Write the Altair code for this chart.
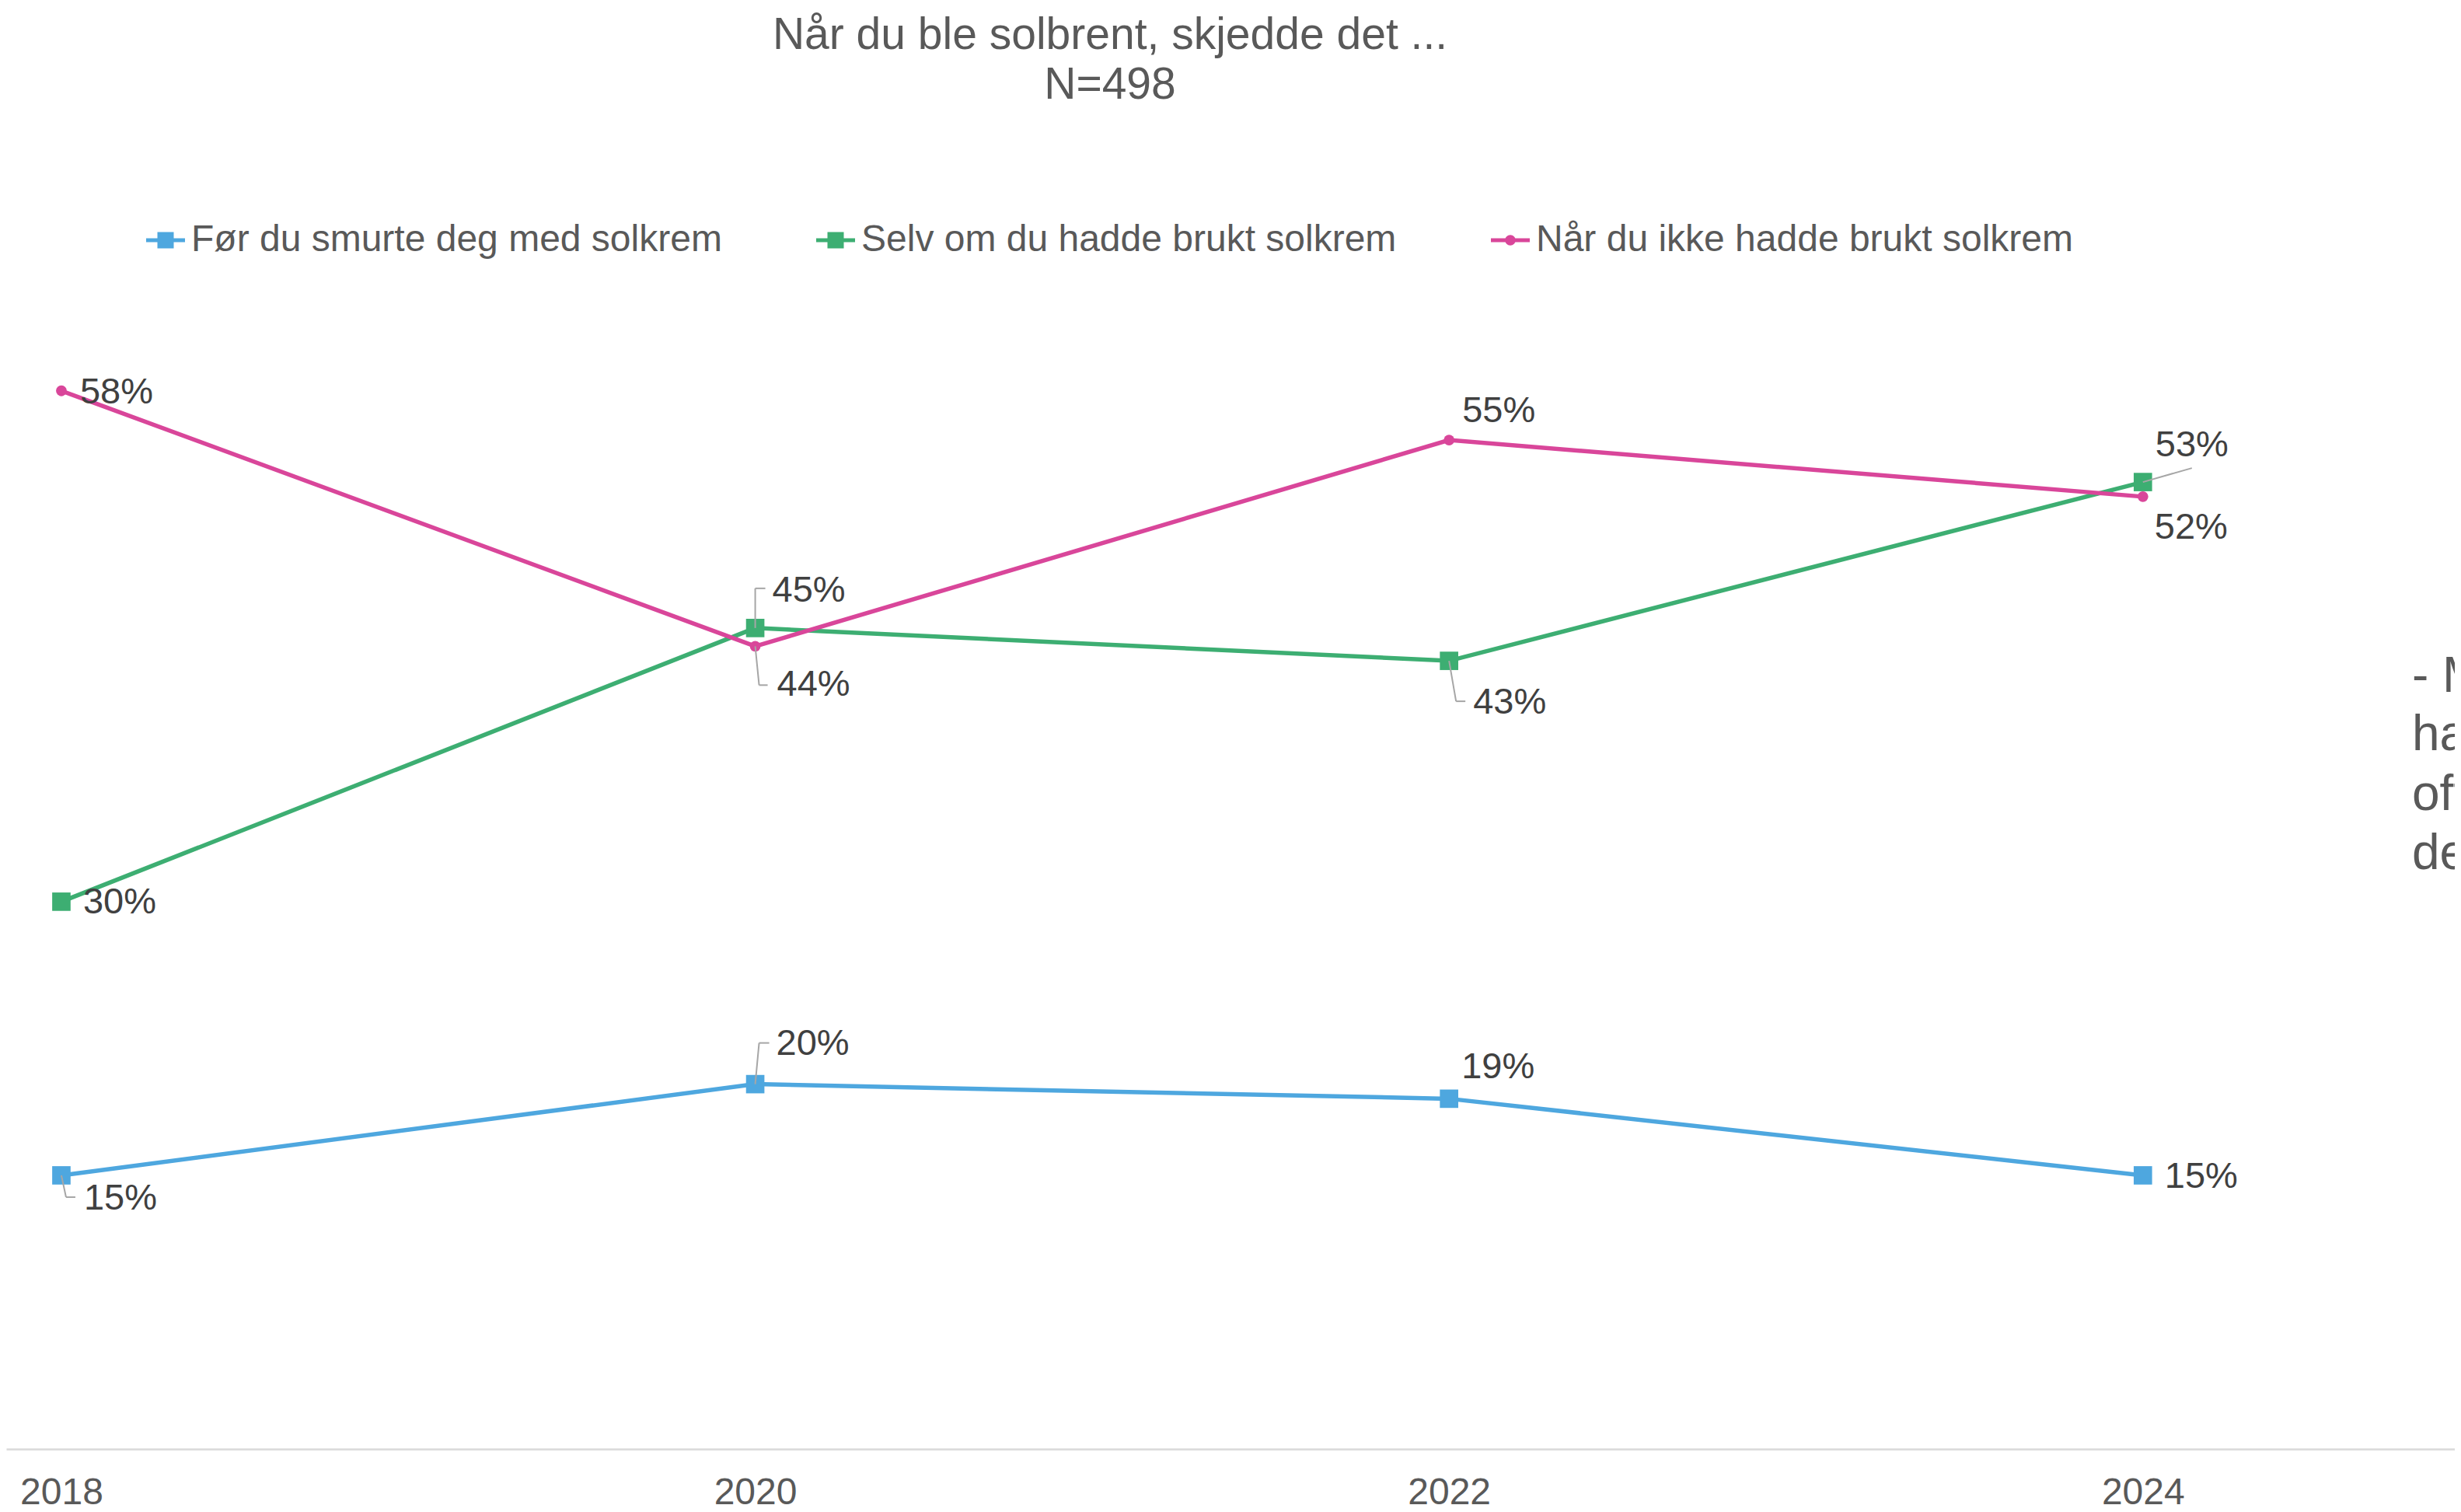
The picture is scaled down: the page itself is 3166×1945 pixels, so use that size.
import altair as alt
import pandas as pd

# ---------------- data ----------------
years = [2018, 2020, 2022, 2024]
series_names = [
    "Før du smurte deg med solkrem",
    "Selv om du hadde brukt solkrem",
    "Når du ikke hadde brukt solkrem",
]
before_sunscreen = [15, 20, 19.2, 15]
despite_sunscreen = [30, 45, 43.2, 53]
without_sunscreen = [58, 44, 55.3, 52.2]
title_lines = ["Når du ble solbrent, skjedde det ...", "N=498"]
side_note = ["- Mange", "hadde", "ofte", "det"]

# ---------------- styling ----------------
colors = ["#4EA7DF", "#3DAE72", "#D9469A"]
FONT = "Liberation Sans"
GREY = "#595959"
DARK = "#404040"
W, H = 3150, 1856
X_DOMAIN = [2017.841, 2024.899]
Y_DOMAIN = [0, 79.08]

# label offsets (px) per series / year
label_offsets = [
    [(29, 30), (27, -52), (16, -40), (28, 2)],
    [(28, 1), (22, -48), (31, 54), (16, -47)],
    [(24, 2), (28, 50), (17, -37), (15, 40)],
]
# leader line segments (px, relative to point): series idx, year idx, x1, y1, x2, y2
leaders = [
    (0, 0, 0, 0, 6, 28), (0, 0, 6, 28, 18, 28),
    (0, 1, 0, 0, 5, -53), (0, 1, 5, -53, 18, -53),
    (1, 1, 0, 0, 0, -51), (1, 1, 0, -51, 13, -51),
    (2, 1, 0, 0, 5, 50), (2, 1, 5, 50, 16, 50),
    (1, 2, 0, 0, 9, 52), (1, 2, 9, 52, 21, 52),
    (1, 3, 0, 0, 63, -18),
]

all_values = [before_sunscreen, despite_sunscreen, without_sunscreen]
rows = []
for s_i, (name, vals) in enumerate(zip(series_names, all_values)):
    for y_i, (yr, v) in enumerate(zip(years, vals)):
        rows.append({"series": name, "year": yr, "value": v, "label": f"{round(v)}%",
                     "s": s_i, "yi": y_i})
df = pd.DataFrame(rows)

x_scale = alt.Scale(domain=X_DOMAIN, nice=False, zero=False)
y_scale = alt.Scale(domain=Y_DOMAIN, nice=False, zero=False)
x_axis = alt.Axis(values=years, format="d", title=None, grid=False, ticks=False,
                  labelFont=FONT, labelFontSize=48, labelColor=GREY,
                  labelPadding=32, labelFlush=False, labelOverlap=False,
                  domainColor="#D9D9D9", domainWidth=2.5)


def xq():
    return alt.X("year:Q", scale=x_scale, axis=x_axis)


def yq():
    return alt.Y("value:Q", scale=y_scale, axis=None)


layers = []

# invisible layer that drives the legend
sq_path = "M-1,-0.1L1,-0.1L1,0.1L-1,0.1Z M-0.42,-0.42L0.42,-0.42L0.42,0.42L-0.42,0.42Z"
ci_path = ("M-1,-0.1L1,-0.1L1,0.1L-1,0.1Z "
           "M-0.27,0A0.27,0.27 0 1,1 0.27,0A0.27,0.27 0 1,1 -0.27,0Z")
legend = alt.Legend(title=None, orient="none", legendX=180, legendY=276,
                    direction="horizontal", columns=3, labelFont=FONT,
                    labelFontSize=48, labelColor=GREY, labelLimit=0,
                    symbolSize=2500, symbolOpacity=1, symbolStrokeWidth=0,
                    columnPadding=121, labelOffset=8, padding=0)
layers.append(
    alt.Chart(df).mark_point(filled=True, opacity=0).encode(
        x=xq(), y=yq(),
        color=alt.Color("series:N", scale=alt.Scale(domain=series_names, range=colors),
                        legend=legend),
        shape=alt.Shape("series:N", scale=alt.Scale(domain=series_names,
                                                     range=[sq_path, sq_path, ci_path]),
                        legend=legend),
    )
)

# lines and markers
for s_i, name in enumerate(series_names):
    sub = df[df["s"] == s_i]
    layers.append(alt.Chart(sub).mark_line(color=colors[s_i], strokeWidth=5.5).encode(
        x=xq(), y=yq(), order="year:Q"))
    if s_i < 2:
        layers.append(alt.Chart(sub).mark_square(color=colors[s_i], size=560, opacity=1).encode(
            x=xq(), y=yq()))
    else:
        layers.append(alt.Chart(sub).mark_circle(color=colors[s_i], size=190, opacity=1).encode(
            x=xq(), y=yq()))

# leader lines
for (s_i, y_i, x1, y1, x2, y2) in leaders:
    sub = df[(df["s"] == s_i) & (df["yi"] == y_i)]
    layers.append(alt.Chart(sub).mark_rule(color="#A6A6A6", strokeWidth=2,
                                           xOffset=x1, yOffset=y1,
                                           x2Offset=x2, y2Offset=y2).encode(
        x=xq(), x2="year:Q", y=yq(), y2="value:Q"))

# data labels
for s_i in range(len(series_names)):
    for y_i in range(len(years)):
        sub = df[(df["s"] == s_i) & (df["yi"] == y_i)]
        dx, dy = label_offsets[s_i][y_i]
        layers.append(alt.Chart(sub).mark_text(
            align="left", baseline="middle", dx=dx, dy=dy, font=FONT,
            fontSize=47, color=DARK).encode(x=xq(), y=yq(), text="label:N"))

# title
for i, (t, ypos) in enumerate(zip(title_lines, [55, 119])):
    layers.append(alt.Chart(pd.DataFrame({"t": [t]})).mark_text(
        align="center", baseline="alphabetic", font=FONT, fontSize=57, color=GREY
    ).encode(x=alt.value(1420), y=alt.value(ypos), text="t:N"))

# side note (cut off at the right edge, as in the original)
for t, ypos in zip(side_note, [882, 957, 1034, 1110]):
    layers.append(alt.Chart(pd.DataFrame({"t": [t]})).mark_text(
        align="left", baseline="alphabetic", font=FONT, fontSize=64, color=GREY, clip=True
    ).encode(x=alt.value(3095), y=alt.value(ypos), text="t:N"))

chart = alt.layer(*layers).properties(
    width=W, height=H, padding=0, background="white"
).configure_view(stroke=None)

chart.save("out.html", embed_options={"renderer": "svg", "actions": False})
